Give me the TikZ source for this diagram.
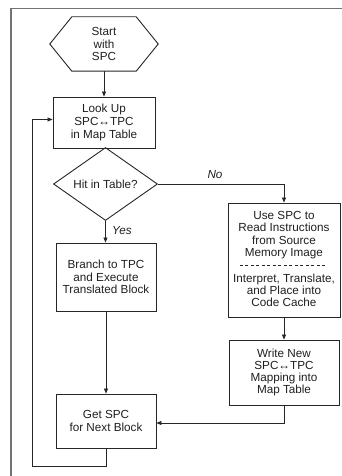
\documentclass[tikz,border=0pt]{standalone}
\usepackage{fontspec}
\setmainfont{Liberation Sans}
\usetikzlibrary{arrows.meta,shapes.geometric,calc}
\begin{document}
\begin{tikzpicture}[x=1pt,y=-1pt,
  txt/.style={font=\fontsize{11.7}{12.3}\selectfont, align=center, text=black!88},
  proc/.style={txt, draw=black!85, line width=0.9pt, inner sep=0pt},
  decision/.style={txt, diamond, draw=black!85, line width=0.9pt, inner sep=0pt,
    minimum width=104pt, minimum height=72pt},
  outline/.style={draw=black!85, line width=0.9pt},
  flow/.style={draw=black!85, line width=0.7pt, -{Triangle[length=5pt,width=4pt]}},
  frame/.style={draw=black!55, line width=1.6pt},
  lbl/.style={font=\fontsize{11.7}{12}\selectfont\itshape, text=black!88}
]
\useasboundingbox (0,0) rectangle (342,476);

% page frame
\draw[frame] (11,476) -- (11,8.5) -- (342,8.5);

% start terminal (hexagon drawn around the text node)
\node[txt, minimum width=108pt, minimum height=54pt, inner sep=0pt] (start) at (104,44) {Start\\with\\SPC};
\draw[outline] (start.west) -- ($(start.north west)+(22,0)$) -- ($(start.north east)+(-22,0)$)
  -- (start.east) -- ($(start.south east)+(-22,0)$) -- ($(start.south west)+(22,0)$) -- cycle;

% process boxes
\node[proc, font=\fontsize{11.7}{13}\selectfont, minimum width=102pt, minimum height=51pt] (look) at (104,122.5)
  {Look Up\\SPC↔TPC\\in Map Table};
\node[decision] (hit) at (105.5,184) {Hit in Table?};
\node[proc, minimum width=100pt, minimum height=68pt] (branch) at (106,277)
  {Branch to TPC\\and Execute\\Translated Block};

\node[proc, minimum width=112pt, minimum height=114pt] (use) at (284,260) {};
\node[txt] (useA) at (284,235) {Use SPC to\\Read Instructions\\from Source\\Memory Image};
\node[txt] (useB) at (284,290.5) {Interpret, Translate,\\and Place into\\Code Cache};
\draw[draw=black!85, line width=0.6pt, dash pattern=on 3pt off 2.5pt]
  ($(use.west)+(12,5)$) -- ($(use.east)+(-15,5)$);

\node[proc, minimum width=110pt, minimum height=65pt] (write) at (284,372.5)
  {Write New\\SPC↔TPC\\Mapping into\\Map Table};
\node[proc, minimum width=100pt, minimum height=54pt] (get) at (106,421)
  {Get SPC\\for Next Block};

% connectors
\draw[flow] (start.south) -- (look.north);
\draw[flow] (hit.south) -- (hit.south |- branch.north);
\node[lbl] (yes) at (122,231) {Yes};
\draw[flow] (branch.south) -- (get.north);
\draw[flow] (hit.east) -| (use.north);
\node[lbl] (no) at (215,175) {No};
\draw[flow] (use.south) -- (write.north);
\draw[flow] (write.south) |- ([yshift=-2pt]get.east);
\coordinate (loop) at (32,466);
\draw[flow] (get.south) -- (get.south |- loop) -- (loop) |- ([yshift=3pt]look.west);
\end{tikzpicture}
\end{document}
